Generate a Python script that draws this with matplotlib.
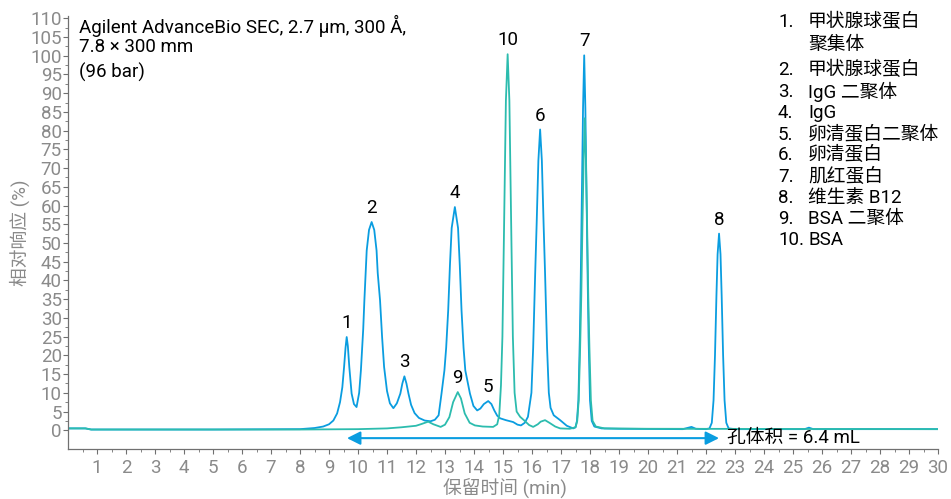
import matplotlib
matplotlib.use("Agg")
import matplotlib.pyplot as plt
import numpy as np

plt.rcParams['font.family'] = ['Roboto', 'Noto Sans CJK SC', 'DejaVu Sans']

# blue trace
blue_t = [0.0, 0.6, 0.8, 5.0, 8.0, 8.5, 8.8, 9.0, 9.15, 9.28, 9.38, 9.46, 9.52, 9.57, 9.61,
          9.65, 9.70, 9.78, 9.86, 9.95, 10.04, 10.10, 10.14, 10.18, 10.22, 10.26, 10.30,
          10.38, 10.47, 10.56, 10.64, 10.68, 10.76, 10.83, 10.90, 11.00, 11.10, 11.22,
          11.34, 11.46, 11.53, 11.60, 11.67, 11.74, 11.83, 11.95, 12.10, 12.30, 12.50,
          12.65, 12.78, 12.88, 12.98, 13.04, 13.11, 13.17, 13.23, 13.34, 13.45, 13.51,
          13.57, 13.64, 13.70, 13.86, 13.98, 14.11, 14.22, 14.34, 14.49, 14.60, 14.70,
          14.80, 14.90, 15.10, 15.35, 15.50, 15.62, 15.75, 15.86, 15.98, 16.04, 16.11,
          16.16, 16.22, 16.28, 16.34, 16.40, 16.45, 16.52, 16.58, 16.64, 16.75, 16.97,
          17.20, 17.42, 17.50, 17.55, 17.60, 17.65, 17.68, 17.72, 17.76, 17.80, 17.84,
          17.88, 17.92, 17.95, 18.00, 18.06, 18.15, 18.40, 19.0, 21.2, 21.35, 21.5, 21.65,
          22.0, 22.12, 22.20, 22.26, 22.31, 22.36, 22.40, 22.45, 22.50, 22.54, 22.59,
          22.64, 22.70, 22.78, 23.0, 25.4, 25.55, 25.7, 30.0]
blue_v = [0.5, 0.5, 0.2, 0.2, 0.3, 0.6, 1.0, 1.6, 2.6, 4.5, 7.5, 11.5, 16.9, 22.0, 24.9,
          22.5, 16.9, 9.8, 7.0, 6.2, 10.0, 16.0, 21.5, 27.0, 34.7, 41.5, 48.0,
          53.5, 55.6, 53.5, 48.0, 42.0, 34.7, 25.0, 16.9, 10.5, 7.2, 5.9,
          7.2, 9.8, 12.5, 14.4, 12.5, 9.8, 6.8, 4.6, 3.3, 2.6, 2.4,
          2.8, 4.0, 9.8, 16.0, 22.0, 32.0, 44.0, 54.0, 59.6, 54.0, 44.0,
          32.0, 22.0, 16.0, 9.8, 6.5, 5.3, 5.8, 7.0, 7.8, 7.0, 5.3,
          3.9, 3.2, 2.7, 2.2, 1.5, 1.3, 2.0, 3.6, 10.0, 22.0, 42.0,
          55.0, 72.0, 80.3, 72.0, 55.0, 42.0, 22.0, 10.0, 6.0, 4.0, 2.7,
          1.2, 0.5, 0.8, 2.5, 8.0, 25.0, 40.0, 62.0, 86.0, 100.1, 86.0,
          62.0, 40.0, 25.0, 8.0, 2.5, 1.0, 0.5, 0.4, 0.3, 0.6, 0.9, 0.4,
          0.3, 0.5, 2.0, 8.0, 20.0, 36.0, 47.0, 52.5, 47.0, 36.0, 20.0,
          8.0, 2.0, 0.5, 0.3, 0.3, 0.7, 0.3, 0.3]

# teal trace
teal_t = [0.0, 0.6, 0.8, 8.0, 10.0, 11.0, 11.5, 12.0, 12.2, 12.42, 12.6, 12.85, 13.0,
          13.15, 13.28, 13.44, 13.55, 13.68, 13.85, 14.03, 14.3, 14.66, 14.80, 14.87,
          14.93, 14.98, 15.03, 15.10, 15.16, 15.22, 15.29, 15.34, 15.40, 15.47, 15.59,
          15.75, 15.90, 16.04, 16.2, 16.3, 16.45, 16.6, 16.8, 16.97, 17.3, 17.5, 17.56,
          17.61, 17.66, 17.70, 17.74, 17.78, 17.82, 17.86, 17.90, 17.94, 17.98, 18.03,
          18.09, 18.2, 18.5, 20.0, 30.0]
teal_v = [0.5, 0.5, 0.2, 0.2, 0.3, 0.5, 0.8, 1.2, 1.7, 2.3, 1.6, 0.9, 1.5,
          3.5, 7.5, 10.2, 8.5, 4.5, 2.0, 1.3, 1.0, 0.9, 1.6, 4.0,
          12.0, 25.0, 50.7, 88.0, 100.4, 88.0, 50.7, 25.0, 10.0, 5.0, 3.6,
          2.5, 1.4, 0.9, 1.6, 2.3, 2.7, 2.0, 1.0, 0.5, 0.4, 0.8, 2.5,
          8.0, 22.0, 36.0, 55.0, 72.0, 83.3, 72.0, 55.0, 36.0, 22.0, 8.0,
          2.5, 1.0, 0.5, 0.4, 0.3]

# peak labels
peak_labels = ['1', '2', '3', '4', '5', '6', '7', '8', '9', '10']
peak_times = [9.61, 10.47, 11.60, 13.34, 14.49, 16.28, 17.80, 22.45, 13.44, 15.16]
peak_heights = [24.9, 55.6, 14.4, 59.6, 7.8, 80.3, 100.1, 52.5, 10.2, 100.4]

compounds = ['甲状腺球蛋白\n聚集体', '甲状腺球蛋白', 'IgG 二聚体', 'IgG', '卵清蛋白二聚体',
             '卵清蛋白', '肌红蛋白', '维生素 B12', 'BSA 二聚体', 'BSA']

blue = '#0a9de0'
teal = '#2cbcae'
gray = '#8a8a8a'
fs = 13.5

fig = plt.figure(figsize=(9.51, 4.99), dpi=100)
ax = fig.add_axes([68/951, 50/499, 870/951, 432.6/499])

ax.plot(blue_t, blue_v, color=blue, lw=1.3)
ax.plot(teal_t, teal_v, color=teal, lw=1.3)

ax.set_xlim(0, 30)
ax.set_ylim(-5, 110.5)
ax.set_xticks(np.arange(1, 31))
ax.set_xticks(np.arange(0.5, 30.5, 1), minor=True)
ax.set_yticks(np.arange(0, 111, 5))
ax.set_yticks(np.arange(2.5, 110, 5), minor=True)

for s in ['top', 'right']:
    ax.spines[s].set_visible(False)
for s in ['left', 'bottom']:
    ax.spines[s].set_color('#707070')
    ax.spines[s].set_linewidth(0.9)

ax.tick_params(axis='both', which='major', colors='#707070', labelcolor=gray,
               labelsize=fs, length=3.5, width=0.8)
ax.tick_params(axis='both', which='minor', colors='#707070', length=2, width=0.6)
ax.tick_params(axis='y', pad=1)
ax.tick_params(axis='x', pad=4)

for lab, t, h in zip(peak_labels, peak_times, peak_heights):
    ax.annotate(lab, xy=(t, h), xytext=(0, 10), textcoords='offset points',
                ha='center', va='center', fontsize=fs, color='black')

# pore volume arrow
ax.annotate('', xy=(9.62, -2.1), xytext=(22.45, -2.1),
            arrowprops=dict(arrowstyle='<|-|>', color=blue, lw=1.5,
                            mutation_scale=20, shrinkA=0, shrinkB=0))
ax.text(22.72, -2.1, '孔体积 = 6.4 mL', fontsize=fs, va='center', ha='left')

# column info
fig.text(79/951, 1 - 26/499, 'Agilent AdvanceBio SEC, 2.7 µm, 300 Å,', fontsize=fs, va='center')
fig.text(79/951, 1 - 47/499, '7.8 × 300 mm', fontsize=fs, va='center')
fig.text(79/951, 1 - 72/499, '(96 bar)', fontsize=fs, va='center')

# compound list
ys = [22, 70, 92, 113, 135, 155, 177, 198, 219, 240]
for i, (name, y) in enumerate(zip(compounds, ys)):
    fig.text(778/951, 1 - y/499, f'{i+1}.', fontsize=fs, va='center')
    lines = name.split('\n')
    for j, ln in enumerate(lines):
        fig.text(808/951, 1 - (y + 23*j)/499, ln, fontsize=fs, va='center')

fig.text(20/951, 1 - 233/499, '相对响应 (%)', rotation=90, fontsize=fs,
         color=gray, ha='center', va='center')
fig.text(505/951, 1 - 488/499, '保留时间 (min)', fontsize=fs, color=gray,
         ha='center', va='center')

fig.savefig('out.png', dpi=100)
